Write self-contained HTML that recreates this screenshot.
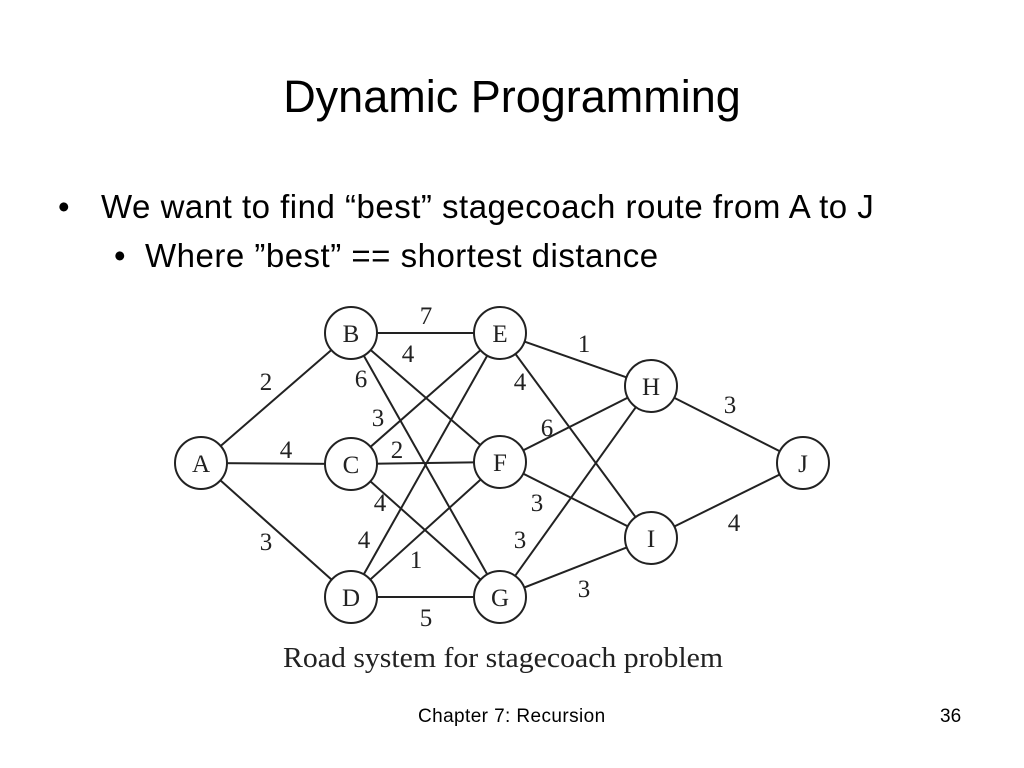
<!DOCTYPE html>
<html><head><style>
body{margin:0;width:1024px;height:768px;background:#fff;font-family:"Liberation Sans",sans-serif;position:relative;overflow:hidden}
.t{position:absolute;white-space:nowrap;color:#000}
</style></head><body>
<div class="t" style="left:0;width:1024px;text-align:center;top:71px;font-size:45px">Dynamic Programming</div>
<div class="t" style="left:58px;top:188px;font-size:33px">•</div>
<div class="t" style="left:101px;top:188px;font-size:33px;letter-spacing:0.5px">We want to find “best” stagecoach route from A to J</div>
<div class="t" style="left:114px;top:237px;font-size:33px">•</div>
<div class="t" style="left:145px;top:237px;font-size:33px;letter-spacing:0.5px">Where ”best” == shortest distance</div>
<svg width="1024" height="768" style="position:absolute;left:0;top:0">
<g stroke="#222" stroke-width="2">
<line x1="201" y1="463" x2="351" y2="333"/><line x1="201" y1="463" x2="351" y2="464"/><line x1="201" y1="463" x2="351" y2="597"/>
<line x1="351" y1="333" x2="500" y2="333"/><line x1="351" y1="333" x2="500" y2="462"/><line x1="351" y1="333" x2="500" y2="597"/>
<line x1="351" y1="464" x2="500" y2="333"/><line x1="351" y1="464" x2="500" y2="462"/><line x1="351" y1="464" x2="500" y2="597"/>
<line x1="351" y1="597" x2="500" y2="333"/><line x1="351" y1="597" x2="500" y2="462"/><line x1="351" y1="597" x2="500" y2="597"/>
<line x1="500" y1="333" x2="651" y2="386"/><line x1="500" y1="333" x2="651" y2="538"/>
<line x1="500" y1="462" x2="651" y2="386"/><line x1="500" y1="462" x2="651" y2="538"/>
<line x1="500" y1="597" x2="651" y2="386"/><line x1="500" y1="597" x2="651" y2="538"/>
<line x1="651" y1="386" x2="803" y2="463"/><line x1="651" y1="538" x2="803" y2="463"/>
</g>
<g stroke="#222" stroke-width="2" fill="#fff">
<circle cx="201" cy="463" r="26"/><circle cx="351" cy="333" r="26"/><circle cx="351" cy="464" r="26"/><circle cx="351" cy="597" r="26"/>
<circle cx="500" cy="333" r="26"/><circle cx="500" cy="462" r="26"/><circle cx="500" cy="597" r="26"/>
<circle cx="651" cy="386" r="26"/><circle cx="651" cy="538" r="26"/><circle cx="803" cy="463" r="26"/>
</g>
<g font-family="Liberation Serif,serif" font-size="25" text-anchor="middle" fill="#222">
<text x="201" y="472">A</text><text x="351" y="342">B</text><text x="351" y="473">C</text><text x="351" y="606">D</text>
<text x="500" y="342">E</text><text x="500" y="471">F</text><text x="500" y="606">G</text>
<text x="651" y="395">H</text><text x="651" y="547">I</text><text x="803" y="472">J</text>
<text x="426" y="324">7</text><text x="408" y="362">4</text><text x="266" y="390">2</text><text x="361" y="387">6</text>
<text x="378" y="426">3</text><text x="397" y="458">2</text><text x="286" y="458">4</text><text x="380" y="511">4</text>
<text x="266" y="550">3</text><text x="364" y="548">4</text><text x="416" y="568">1</text><text x="426" y="626">5</text>
<text x="584" y="352">1</text><text x="520" y="390">4</text><text x="547" y="436">6</text><text x="537" y="511">3</text>
<text x="520" y="548">3</text><text x="584" y="597">3</text><text x="730" y="413">3</text><text x="734" y="531">4</text>
<text x="503" y="667" font-size="28" textLength="440" lengthAdjust="spacingAndGlyphs">Road system for stagecoach problem</text>
</g>
</svg>
<div class="t" style="left:418px;top:706px;font-size:19px;letter-spacing:0.4px">Chapter 7: Recursion</div>
<div class="t" style="left:940px;top:706px;font-size:19px">36</div>
</body></html>
